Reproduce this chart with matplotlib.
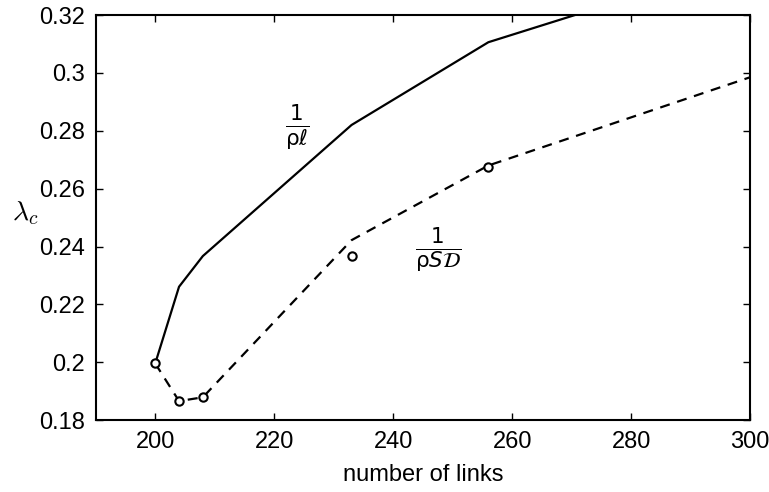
import numpy as np
import matplotlib
matplotlib.use('Agg')
import matplotlib.pyplot as plt

plt.rcParams['font.family'] = ['Liberation Sans', 'DejaVu Sans']

# Datos
enlaces_rho_l = [200, 204, 208, 233, 256, 300]
lambda_rho_l = [0.1996, 0.2261, 0.2367, 0.2820, 0.3106, 0.3390]

enlaces_rho_sd = [200, 204, 208, 233, 256, 300]
lambda_rho_sd = [0.1996, 0.1866, 0.1879, 0.2422, 0.2680, 0.2985]

enlaces_sim = [200, 204, 208, 233, 256]
lambda_sim = [0.1996, 0.1866, 0.1879, 0.2366, 0.2676]

xticks = [200, 220, 240, 260, 280, 300]
yticks = [0.18, 0.2, 0.22, 0.24, 0.26, 0.28, 0.3, 0.32]
ytick_labels = ['0.18', '0.2', '0.22', '0.24', '0.26', '0.28', '0.3', '0.32']

fig = plt.figure(figsize=(7.69, 4.92), dpi=100)
ax = fig.add_axes([0.1245, 0.146, 0.851, 0.8235])

ax.plot(enlaces_rho_l, lambda_rho_l, color='black', lw=1.6)
ax.plot(enlaces_rho_sd, lambda_rho_sd, color='black', lw=1.6,
        linestyle=(0, (4.5, 3.5)))
ax.plot(enlaces_sim, lambda_sim, linestyle='none', marker='o', ms=6,
        mfc='white', mec='black', mew=1.5, zorder=3)

ax.set_xlim(190, 300)
ax.set_ylim(0.18, 0.32)
ax.set_xticks(xticks)
ax.set_xticklabels([str(t) for t in xticks])
ax.set_yticks(yticks)
ax.set_yticklabels(ytick_labels)
ax.tick_params(direction='in', top=True, right=True, length=5, width=1,
               labelsize=17, pad=8)
for s in ax.spines.values():
    s.set_linewidth(1.5)

ax.set_xlabel('number of links', fontsize=17, labelpad=8)
ax.text(-0.128, 0.51, r'$\lambda_c$', transform=ax.transAxes, fontsize=20,
        math_fontfamily='cm', ha='left', va='center')

ax.text(223.9, 0.2809, r'$\frac{1}{\mathrm{\rho}\ell}$', fontsize=22,
        ha='center', va='center', math_fontfamily='dejavusans')
ax.text(247.5, 0.2387, r'$\frac{1}{\mathrm{\rho}\mathit{S}\mathcal{D}}$', fontsize=22,
        ha='center', va='center', math_fontfamily='dejavusans')

fig.savefig('out.png', dpi=100)
